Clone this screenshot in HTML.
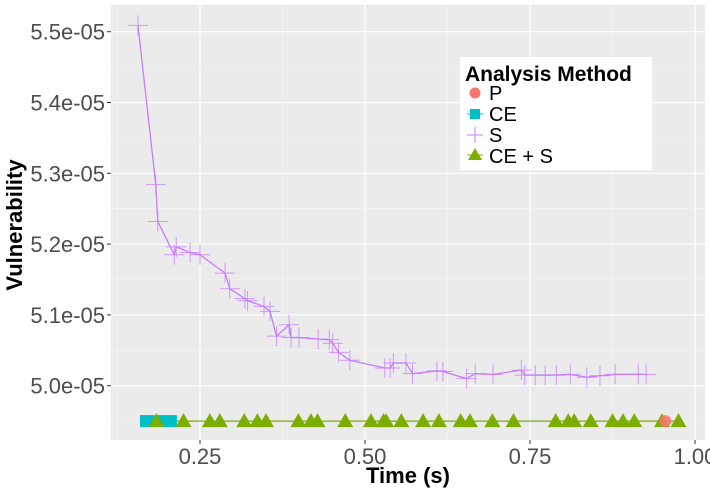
<!DOCTYPE html>
<html><head><meta charset="utf-8"><style>
body{margin:0;background:#fff;}
svg text{font-family:"Liberation Sans",sans-serif;}
</style></head><body>
<svg id="c" width="710" height="491" xmlns="http://www.w3.org/2000/svg">
<rect x="111" y="5" width="594" height="435" fill="#ebebeb"/>
<g id="grid"></g>
<g id="marks"></g>
<g id="axes"></g>
<text x="408" y="483" font-size="22" font-weight="bold" text-anchor="middle">Time (s)</text>
<text transform="translate(22,225) rotate(-90)" font-size="22" font-weight="bold" text-anchor="middle">Vulnerability</text>
<g>
<rect x="460" y="57" width="192" height="113" fill="#fff"/>
<text x="465" y="81" font-size="21" font-weight="bold">Analysis Method</text>
<g><circle cx="475" cy="93" r="5.5" fill="#f8766d"/><text x="489" y="100" font-size="20">P</text></g>
<g><line x1="467" y1="114" x2="483" y2="114" stroke="#00bfc4" stroke-width="1"/><rect x="470" y="109" width="10" height="10" fill="#00bfc4"/><text x="489" y="121" font-size="20">CE</text></g>
<g><path d="M467 135 H483 M475 127 V143" stroke="#c77cff" stroke-width="1"/><text x="489" y="142" font-size="20">S</text></g>
<g><line x1="467" y1="155" x2="483" y2="155" stroke="#7cae00"/><path d="M475 148 L482 160 L468 160 Z" fill="#7cae00"/><text x="489" y="163" font-size="20">CE + S</text></g>
</g>
</svg>
<script>
const sX=[0.156,0.183,0.186,0.211,0.214,0.235,0.25,0.288,0.295,0.318,0.322,0.347,0.356,0.366,0.385,0.388,0.4,0.429,0.446,0.451,0.46,0.477,0.53,0.538,0.543,0.562,0.572,0.609,0.618,0.654,0.667,0.694,0.737,0.742,0.758,0.773,0.79,0.811,0.836,0.856,0.879,0.914,0.926];
const sY=[5.509,5.284,5.232,5.185,5.196,5.188,5.185,5.159,5.137,5.123,5.12,5.112,5.105,5.07,5.086,5.068,5.068,5.066,5.065,5.06,5.047,5.036,5.025,5.025,5.032,5.032,5.017,5.021,5.02,5.01,5.017,5.016,5.022,5.015,5.015,5.015,5.015,5.016,5.012,5.014,5.016,5.016,5.016];
const ceSX=[0.184,0.225,0.265,0.28,0.317,0.337,0.35,0.399,0.418,0.428,0.47,0.509,0.528,0.532,0.555,0.588,0.612,0.645,0.659,0.693,0.725,0.789,0.808,0.817,0.842,0.875,0.891,0.908,0.95,0.975];
const ceSY=4.95;
const ceX=[0.159,0.215];
const ceY=4.95;
const pX=[0.955];
const pY=[4.95];
const xTicks=[0.25,0.5,0.75,1.0];
const xTickLabels=["0.25","0.50","0.75","1.00"];
const yTicks=[5.0,5.1,5.2,5.3,5.4,5.5];
const yTickLabels=["5.0e-05","5.1e-05","5.2e-05","5.3e-05","5.4e-05","5.5e-05"];
const NS="http://www.w3.org/2000/svg";
const X=v=>35+660*v;
const Y=v=>385.7-(v-5.0)*708;
function mk(t,a,p){const e=document.createElementNS(NS,t);for(const k in a)e.setAttribute(k,a[k]);p.appendChild(e);return e;}
const grid=document.getElementById('grid'),marks=document.getElementById('marks'),axes=document.getElementById('axes');
for(let i=0;i<xTicks.length;i++){
 const l=mk('line',{x1:X(xTicks[i]),x2:X(xTicks[i]),y1:5,y2:440,stroke:'#fff','stroke-width':1.2},grid);
 
 
 const m=mk('line',{x1:X(xTicks[i]-0.125),x2:X(xTicks[i]-0.125),y1:5,y2:440,stroke:'#f5f5f5','stroke-width':0.6},grid);
 
 
 const tk=mk('line',{x1:X(xTicks[i]),x2:X(xTicks[i]),y1:440,y2:444,stroke:'#333'},axes);
 
 
 const t=mk('text',{x:X(xTicks[i]),y:464,'font-size':22,fill:'#4d4d4d','text-anchor':'middle'},axes);
 t.textContent=xTickLabels[i];
 
 
}
for(let i=0;i<yTicks.length;i++){
 const l=mk('line',{x1:111,x2:705,y1:Y(yTicks[i]),y2:Y(yTicks[i]),stroke:'#fff','stroke-width':1.2},grid);
 
 
 const m=mk('line',{x1:111,x2:705,y1:Y(yTicks[i]-0.05),y2:Y(yTicks[i]-0.05),stroke:'#f5f5f5','stroke-width':0.6},grid);
 
 
 const tk=mk('line',{x1:107,x2:111,y1:Y(yTicks[i]),y2:Y(yTicks[i]),stroke:'#333'},axes);
 
 
 const t=mk('text',{x:105,y:Y(yTicks[i])+8,'font-size':22,fill:'#4d4d4d','text-anchor':'end'},axes);
 t.textContent=yTickLabels[i];
 
 
}
const sl=mk('polyline',{points:sX.map((x,i)=>X(x)+','+Y(sY[i])).join(' '),fill:'none',stroke:'#c77cff','stroke-width':1.3},marks);


for(let i=0;i<sX.length;i++){
 const x=X(sX[i]),y=Y(sY[i]);
 const p=mk('path',{d:`M${x-10} ${y}H${x+10}M${x} ${y-10}V${y+10}`,stroke:'#c77cff','stroke-width':1,opacity:0.75},marks);
 
 
}
const gl=mk('line',{x1:X(ceSX[0]),x2:X(ceSX[ceSX.length-1]),y1:Y(ceSY),y2:Y(ceSY),stroke:'#7cae00','stroke-width':1.3},marks);


const ce=mk('rect',{x:X(ceX[0]),y:Y(ceY)-6,width:X(ceX[1])-X(ceX[0]),height:12,fill:'#00bfc4'},marks);


for(let i=0;i<ceSX.length;i++){
 const x=X(ceSX[i]),y=Y(ceSY);
 const p=mk('path',{d:`M${x} ${y-8} L${x+8} ${y+6} L${x-8} ${y+6}Z`,fill:'#7cae00'},marks);
 
 
}
for(let i=0;i<pX.length;i++){
 const c=mk('circle',{cx:X(pX[i]),cy:Y(pY[i]),r:6,fill:'#f8766d',opacity:0.85},marks);
 
 
}
</script>
</body></html>
